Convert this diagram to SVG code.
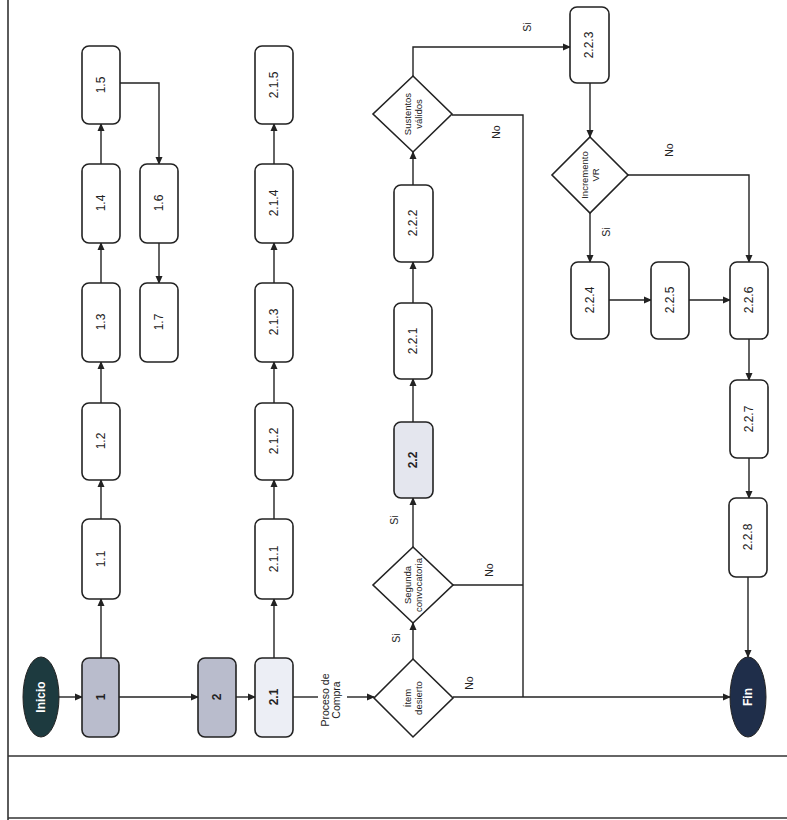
<svg xmlns="http://www.w3.org/2000/svg" width="787" height="820" viewBox="0 0 787 820">
<defs>
<marker id="ah" markerWidth="8" markerHeight="8" refX="7" refY="4" orient="auto" markerUnits="userSpaceOnUse">
<path d="M0,0.5 L8,4 L0,7.5 Z" fill="#222"/>
</marker>
</defs>
<style>
.box{fill:#fff;stroke:#222;stroke-width:1.6}
.dark{fill:#b9bccc}
.light{fill:#eceef5}
.dia{fill:#fff;stroke:#222;stroke-width:1.6}
.t{font-family:"Liberation Sans",Arial,sans-serif;font-size:12px;fill:#222;text-anchor:middle}
.b{font-weight:bold}
.w{fill:#fff;font-weight:bold;font-size:12px}
.s{font-size:9.5px}
.lbl{font-family:"Liberation Sans",Arial,sans-serif;font-size:10.5px;fill:#222;text-anchor:middle}
.c{fill:none;stroke:#222;stroke-width:1.4}
.a{marker-end:url(#ah)}
.frame{stroke:#333;stroke-width:1.6;fill:none}
</style>
<rect width="787" height="820" fill="#fff"/>
<g id="frame">
<line class="frame" x1="8" y1="0" x2="8" y2="820"/>
<line class="frame" x1="8" y1="756" x2="787" y2="756"/>
<line class="frame" x1="8" y1="818" x2="787" y2="818"/>
</g>
<g id="connectors">
<line class="c a" x1="59" y1="697" x2="82" y2="697"/>
<line class="c a" x1="119" y1="697" x2="198" y2="697"/>
<line class="c a" x1="236" y1="697" x2="255" y2="697"/>
<line class="c" x1="293" y1="697" x2="318" y2="697"/>
<line class="c a" x1="347" y1="697" x2="374" y2="697"/>
<line class="c a" x1="101" y1="658" x2="101" y2="599"/>
<line class="c a" x1="101" y1="519" x2="101" y2="480"/>
<line class="c a" x1="101" y1="403" x2="101" y2="362"/>
<line class="c a" x1="101" y1="283" x2="101" y2="243"/>
<line class="c a" x1="101" y1="164" x2="101" y2="124"/>
<polyline class="c a" points="120,83 159,83 159,164"/>
<line class="c a" x1="159" y1="243" x2="159" y2="283"/>
<line class="c a" x1="274" y1="658" x2="274" y2="599"/>
<line class="c a" x1="274" y1="519" x2="274" y2="480"/>
<line class="c a" x1="274" y1="403" x2="274" y2="362"/>
<line class="c a" x1="274" y1="283" x2="274" y2="243"/>
<line class="c a" x1="274" y1="164" x2="274" y2="124"/>
<line class="c a" x1="413" y1="659" x2="413" y2="623"/>
<line class="c a" x1="453" y1="697" x2="730" y2="697"/>
<line class="c a" x1="413" y1="547" x2="413" y2="498"/>
<line class="c" x1="453" y1="585" x2="523" y2="585"/>
<line class="c a" x1="413" y1="422" x2="413" y2="379"/>
<line class="c a" x1="413" y1="303" x2="413" y2="262"/>
<line class="c a" x1="413" y1="185" x2="413" y2="152"/>
<polyline class="c a" points="413,76 413,47 570,47"/>
<polyline class="c" points="452,115 523,115 523,697"/>
<line class="c a" x1="590" y1="83" x2="590" y2="137"/>
<line class="c a" x1="590" y1="213" x2="590" y2="262"/>
<polyline class="c a" points="628,175 749,175 749,262"/>
<line class="c a" x1="609" y1="300" x2="651" y2="300"/>
<line class="c a" x1="689" y1="300" x2="730" y2="300"/>
<line class="c a" x1="749" y1="339" x2="749" y2="380"/>
<line class="c a" x1="749" y1="458" x2="749" y2="498"/>
<line class="c a" x1="748" y1="577" x2="748" y2="657"/>
<text class="lbl" transform="translate(331,700) rotate(-90)"><tspan x="0" dy="-2">Proceso de</tspan><tspan x="0" dy="11">Compra</tspan></text>
<text class="lbl" transform="translate(400,638) rotate(-90)">Si</text>
<text class="lbl" transform="translate(473,683) rotate(-90)">No</text>
<text class="lbl" transform="translate(398,520) rotate(-90)">Si</text>
<text class="lbl" transform="translate(493,570) rotate(-90)">No</text>
<text class="lbl" transform="translate(531,27) rotate(-90)">Si</text>
<text class="lbl" transform="translate(500,132) rotate(-90)">No</text>
<text class="lbl" transform="translate(673,150) rotate(-90)">No</text>
<text class="lbl" transform="translate(610,232) rotate(-90)">Si</text>
</g>
<g id="n-inicio"><ellipse cx="41" cy="697" rx="18" ry="40" fill="#1d3a3f" stroke="#222" stroke-width="1"/><text class="t w" transform="translate(45,697) rotate(-90)">Inicio</text></g>
<g id="n-1"><rect class="box dark" x="82" y="658" width="37" height="79" rx="7"/><text class="t b" transform="translate(105,697) rotate(-90)">1</text></g>
<g id="n-2"><rect class="box dark" x="198" y="658" width="38" height="79" rx="7"/><text class="t b" transform="translate(221,697) rotate(-90)">2</text></g>
<g id="n-2-1"><rect class="box light" x="255" y="658" width="38" height="79" rx="7"/><text class="t b" transform="translate(278,697) rotate(-90)">2.1</text></g>
<g id="n-1-1"><rect class="box" x="82" y="519" width="38" height="80" rx="7"/><text class="t" transform="translate(105,559) rotate(-90)">1.1</text></g>
<g id="n-1-2"><rect class="box" x="82" y="403" width="38" height="77" rx="7"/><text class="t" transform="translate(105,441) rotate(-90)">1.2</text></g>
<g id="n-1-3"><rect class="box" x="82" y="283" width="38" height="79" rx="7"/><text class="t" transform="translate(105,322) rotate(-90)">1.3</text></g>
<g id="n-1-4"><rect class="box" x="82" y="164" width="38" height="79" rx="7"/><text class="t" transform="translate(105,203) rotate(-90)">1.4</text></g>
<g id="n-1-5"><rect class="box" x="82" y="46" width="38" height="78" rx="7"/><text class="t" transform="translate(105,85) rotate(-90)">1.5</text></g>
<g id="n-1-6"><rect class="box" x="140" y="164" width="38" height="79" rx="7"/><text class="t" transform="translate(163,203) rotate(-90)">1.6</text></g>
<g id="n-1-7"><rect class="box" x="140" y="283" width="38" height="79" rx="7"/><text class="t" transform="translate(163,322) rotate(-90)">1.7</text></g>
<g id="n-2-1-1"><rect class="box" x="255" y="519" width="38" height="80" rx="7"/><text class="t" transform="translate(278,559) rotate(-90)">2.1.1</text></g>
<g id="n-2-1-2"><rect class="box" x="255" y="403" width="38" height="77" rx="7"/><text class="t" transform="translate(278,441) rotate(-90)">2.1.2</text></g>
<g id="n-2-1-3"><rect class="box" x="255" y="283" width="38" height="79" rx="7"/><text class="t" transform="translate(278,322) rotate(-90)">2.1.3</text></g>
<g id="n-2-1-4"><rect class="box" x="255" y="164" width="38" height="79" rx="7"/><text class="t" transform="translate(278,203) rotate(-90)">2.1.4</text></g>
<g id="n-2-1-5"><rect class="box" x="255" y="46" width="38" height="78" rx="7"/><text class="t" transform="translate(278,85) rotate(-90)">2.1.5</text></g>
<g id="n-item"><polygon class="dia" points="413,659 453,698 413,737 374,698"/><text class="t s" transform="translate(413,698) rotate(-90)"><tspan x="0" dy="-2">Ítem</tspan><tspan x="0" dy="11">desierto</tspan></text></g>
<g id="n-segunda"><polygon class="dia" points="413,547 453,585 413,623 373,585"/><text class="t s" transform="translate(413,585) rotate(-90)"><tspan x="0" dy="-2">Segunda</tspan><tspan x="0" dy="11">convocatoria</tspan></text></g>
<g id="n-2-2"><rect class="box" style="fill:#e4e6ee" x="394" y="422" width="39" height="76" rx="7"/><text class="t b" transform="translate(417,460) rotate(-90)">2.2</text></g>
<g id="n-2-2-1"><rect class="box" x="394" y="303" width="38" height="76" rx="7"/><text class="t" transform="translate(417,341) rotate(-90)">2.2.1</text></g>
<g id="n-2-2-2"><rect class="box" x="394" y="185" width="39" height="77" rx="7"/><text class="t" transform="translate(417,223) rotate(-90)">2.2.2</text></g>
<g id="n-sustentos"><polygon class="dia" points="413,76 452,114 413,152 373,114"/><text class="t s" transform="translate(413,114) rotate(-90)"><tspan x="0" dy="-2">Sustentos</tspan><tspan x="0" dy="11">válidos</tspan></text></g>
<g id="n-2-2-3"><rect class="box" x="570" y="7" width="39" height="76" rx="7"/><text class="t" transform="translate(593,45) rotate(-90)">2.2.3</text></g>
<g id="n-incremento"><polygon class="dia" points="590,137 628,175 590,213 552,175"/><text class="t s" transform="translate(590,175) rotate(-90)"><tspan x="0" dy="-2">Incremento</tspan><tspan x="0" dy="11">VR</tspan></text></g>
<g id="n-2-2-4"><rect class="box" x="571" y="262" width="38" height="77" rx="7"/><text class="t" transform="translate(594,300) rotate(-90)">2.2.4</text></g>
<g id="n-2-2-5"><rect class="box" x="651" y="262" width="38" height="77" rx="7"/><text class="t" transform="translate(674,300) rotate(-90)">2.2.5</text></g>
<g id="n-2-2-6"><rect class="box" x="730" y="262" width="38" height="77" rx="7"/><text class="t" transform="translate(753,300) rotate(-90)">2.2.6</text></g>
<g id="n-2-2-7"><rect class="box" x="730" y="380" width="38" height="78" rx="7"/><text class="t" transform="translate(753,419) rotate(-90)">2.2.7</text></g>
<g id="n-2-2-8"><rect class="box" x="729" y="498" width="38" height="79" rx="7"/><text class="t" transform="translate(752,537) rotate(-90)">2.2.8</text></g>
<g id="n-fin"><ellipse cx="748" cy="697" rx="18" ry="40" fill="#1f2e4a" stroke="#222" stroke-width="1"/><text class="t w" transform="translate(752,697) rotate(-90)">Fin</text></g>
</svg>
